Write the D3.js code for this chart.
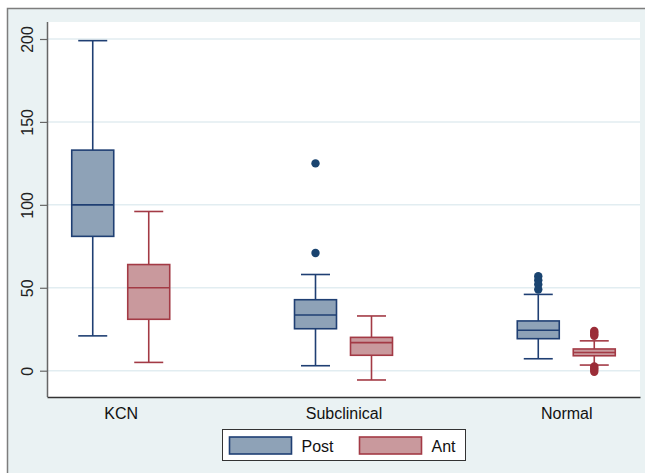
<!DOCTYPE html>
<html>
<head>
<meta charset="utf-8">
<script src="https://cdn.jsdelivr.net/npm/d3@7"></script>
<style>
  body { margin: 0; background: #fff; }
  svg { display: block; font-family: "Liberation Sans", Arial, sans-serif; }
</style>
</head>
<body>
<svg id="chart"></svg>
<script>
// data
const groups = ["KCN", "Subclinical", "Normal"]
const series = ["Post", "Ant"]
const yTicks = [0, 50, 100, 150, 200]

const postLow = [21, 3, 7.2]
const postQ1 = [81, 25.3, 19.3]
const postMed = [100, 33.6, 24.4]
const postQ3 = [133, 42.8, 30]
const postHigh = [199, 58, 46]
const postOut = [[], [125, 71], [57, 54.5, 52, 49]]

const antLow = [5, -5.6, 3.4]
const antQ1 = [31, 9.3, 9]
const antMed = [50, 16.9, 11]
const antQ3 = [64, 20.1, 13.1]
const antHigh = [96, 33, 18]
const antOut = [[], [], [24, 23, 22, 21, 2.6, 1.5, 0.5, -0.6]]

const colors = {
  Post: {fill: "#8ea2b7", stroke: "#1f3f73", dot: "#1a4470"},
  Ant: {fill: "#c9999d", stroke: "#a33a45", dot: "#9b2d38"}
}

function buildBoxes(){
  let boxes = []
  for (let i = 0; i < groups.length; i++){
    boxes.push({group: groups[i], s: "Post", low: postLow[i], q1: postQ1[i], med: postMed[i], q3: postQ3[i], high: postHigh[i], out: postOut[i]})
    boxes.push({group: groups[i], s: "Ant", low: antLow[i], q1: antQ1[i], med: antMed[i], q3: antQ3[i], high: antHigh[i], out: antOut[i]})
  }
  return boxes
}

window.onload = function(){
  const width = 645
  const height = 473
  const left = 47, right = 640, top = 22, bottom = 397

  const svg = d3.select("#chart")
    .attr("width", width)
    .attr("height", height)

  // outer frame
  svg.append("rect")
    .attr("x", 7.5).attr("y", 8.5)
    .attr("width", 700).attr("height", 500)
    .attr("fill", "#eaf2f3")
    .attr("stroke", "#7d7d7d")
    .attr("stroke-width", 1.5)

  svg.append("rect")
    .attr("x", left).attr("y", top)
    .attr("width", right - left).attr("height", bottom - top)
    .attr("fill", "#fff")

  const y = d3.scaleLinear().domain([-15.86, 210.25]).range([bottom, top])
  const x = d3.scalePoint().domain(groups).range([left, right]).padding(0.331)
  const sx = d3.scalePoint().domain(series).range([-28, 28])
  const boxW = 42, capW = 29

  // grid
  svg.append("g")
    .selectAll("line")
    .data(yTicks)
    .enter()
    .append("line")
    .attr("x1", left).attr("x2", right)
    .attr("y1", d => y(d)).attr("y2", d => y(d))
    .attr("stroke", "#e2edf1")
    .attr("stroke-width", 1.5)

  // y axis
  const yAxis = svg.append("g")
    .attr("transform", `translate(${left},0)`)
    .call(d3.axisLeft(y).tickValues(yTicks).tickSize(7).tickSizeOuter(0).tickFormat(d3.format("d")))
  yAxis.select(".domain").attr("stroke", "#666").attr("stroke-width", 1.5)
    .attr("d", `M0.5,${top}V${bottom}`)
  yAxis.selectAll(".tick line").attr("stroke", "#666").attr("stroke-width", 1.2)
  yAxis.selectAll(".tick text")
    .attr("font-size", 16)
    .attr("fill", "#222")
    .attr("x", 0).attr("y", 0).attr("dy", null)
    .attr("text-anchor", "middle")
    .attr("transform", "translate(-14,0) rotate(-90)")

  // x axis
  const xAxis = svg.append("g")
    .attr("transform", `translate(0,${bottom})`)
    .call(d3.axisBottom(x).tickSize(0).tickSizeOuter(0))
  xAxis.select(".domain").attr("stroke", "#333").attr("stroke-width", 1.5)
  xAxis.selectAll(".tick text")
    .attr("font-size", 16)
    .attr("fill", "#111")
    .attr("y", 22).attr("dy", null)

  const boxes = buildBoxes()
  const g = svg.append("g")
    .selectAll("g")
    .data(boxes)
    .enter()
    .append("g")
    .attr("transform", d => `translate(${x(d.group) + sx(d.s)},0)`)

  // whiskers
  g.append("line")
    .attr("x1", 0).attr("x2", 0)
    .attr("y1", d => y(d.high)).attr("y2", d => y(d.q3))
    .attr("stroke", d => colors[d.s].stroke).attr("stroke-width", 1.6)
  g.append("line")
    .attr("x1", 0).attr("x2", 0)
    .attr("y1", d => y(d.q1)).attr("y2", d => y(d.low))
    .attr("stroke", d => colors[d.s].stroke).attr("stroke-width", 1.6)
  g.append("line")
    .attr("x1", -capW / 2).attr("x2", capW / 2)
    .attr("y1", d => y(d.high)).attr("y2", d => y(d.high))
    .attr("stroke", d => colors[d.s].stroke).attr("stroke-width", 1.6)
  g.append("line")
    .attr("x1", -capW / 2).attr("x2", capW / 2)
    .attr("y1", d => y(d.low)).attr("y2", d => y(d.low))
    .attr("stroke", d => colors[d.s].stroke).attr("stroke-width", 1.6)

  // box
  g.append("rect")
    .attr("x", -boxW / 2).attr("width", boxW)
    .attr("y", d => y(d.q3))
    .attr("height", d => y(d.q1) - y(d.q3))
    .attr("fill", d => colors[d.s].fill)
    .attr("stroke", d => colors[d.s].stroke)
    .attr("stroke-width", 1.6)
  g.append("line")
    .attr("x1", -boxW / 2).attr("x2", boxW / 2)
    .attr("y1", d => y(d.med)).attr("y2", d => y(d.med))
    .attr("stroke", d => colors[d.s].stroke).attr("stroke-width", 1.6)

  // outliers
  g.selectAll("circle")
    .data(d => d.out.map(v => ({v: v, s: d.s})))
    .enter()
    .append("circle")
    .attr("cx", 0)
    .attr("cy", d => y(d.v))
    .attr("r", 4.2)
    .attr("fill", d => colors[d.s].dot)

  // legend
  const leg = svg.append("g")
  leg.append("rect")
    .attr("x", 222.5).attr("y", 429.5)
    .attr("width", 243).attr("height", 31)
    .attr("fill", "#fff")
    .attr("stroke", "#333").attr("stroke-width", 1)
  const legX = d3.scalePoint().domain(series).range([229.5, 359.5])
  const item = leg.selectAll("g.item")
    .data(series)
    .enter()
    .append("g")
    .attr("class", "item")
    .attr("transform", d => `translate(${legX(d)},0)`)
  item.append("rect")
    .attr("x", 0).attr("y", 437)
    .attr("width", 62).attr("height", 17)
    .attr("fill", d => colors[d].fill)
    .attr("stroke", d => colors[d].stroke)
    .attr("stroke-width", 1.6)
  item.append("text")
    .attr("x", 72).attr("y", 452)
    .attr("font-size", 16)
    .attr("fill", "#111")
    .text(d => d)
}
</script>
</body>
</html>
